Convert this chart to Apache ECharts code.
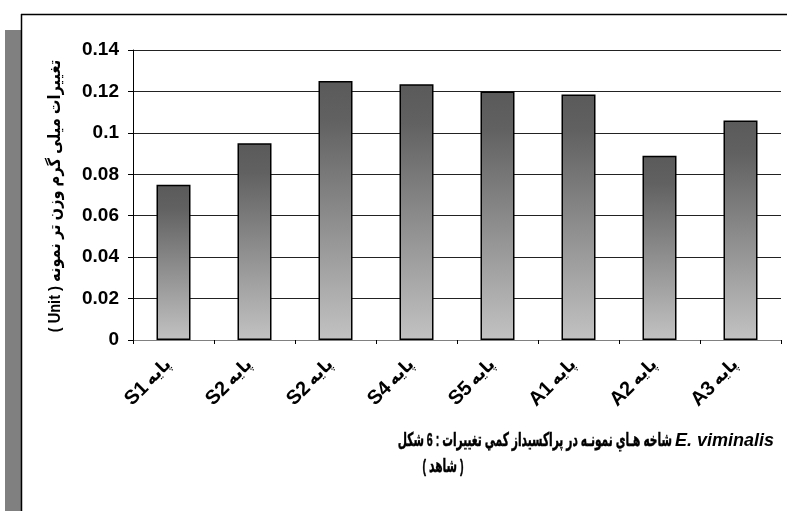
<!DOCTYPE html>
<html>
<head>
<meta charset="utf-8">
<script src="https://cdn.jsdelivr.net/npm/echarts@6/dist/echarts.min.js"></script>
<style>
  html, body { margin: 0; padding: 0; background: #fff; }
  #chart { width: 787px; height: 511px; }
</style>
</head>
<body>
<div id="chart"></div>
<script>
// Samples along the x axis and peroxidase activity (Unit per mg fresh weight)
const sampleCodes = ['S1', 'S2', 'S2', 'S4', 'S5', 'A1', 'A2', 'A3'];
const baseWord = 'پایه';
const activity = [0.075, 0.095, 0.125, 0.1235, 0.12, 0.1185, 0.089, 0.106];
const yTicks = { min: 0, max: 0.14, step: 0.02 };

// Axis title and caption words, listed in the order they are laid out left to right
const yAxisTitle = '( Unit ) تغییرات میلی گرم وزن تر نمونه';
const captionWords = ['شكل', '6', ':', 'تغييرات', 'كمي', 'پراكسيداز', 'در', 'نمونـه', 'هـاي', 'شاخه'];
const captionSpecies = 'E. viminalis';
const captionLine2 = '( شاهد )';

const FONT = "'Liberation Sans', 'DejaVu Sans', Arial, sans-serif";
const LRM = '\u200E';

const chart = echarts.init(document.getElementById('chart'), null, { renderer: 'canvas' });

// Each word is fenced by left-to-right marks so the words keep their listed order
const captionText = captionWords.map(w => LRM + w + LRM).join(' ');

chart.setOption({
  animation: false,
  backgroundColor: '#ffffff',
  graphic: [
    { type: 'rect', shape: { x: 5, y: 30, width: 16, height: 481 }, style: { fill: '#808080' }, silent: true },
    { type: 'line', shape: { x1: 21, y1: 14.5, x2: 787, y2: 14.5 }, style: { stroke: '#000', lineWidth: 1.5 }, silent: true },
    { type: 'line', shape: { x1: 21.5, y1: 14, x2: 21.5, y2: 511 }, style: { stroke: '#000', lineWidth: 1.5 }, silent: true },
    // Vertical y-axis title, slightly narrowed along its length
    {
      type: 'text', x: 55, y: 196, rotation: Math.PI / 2, scaleX: 0.86, silent: true,
      style: {
        text: yAxisTitle, fontFamily: FONT, fontWeight: 'bold', fontSize: 17,
        fill: '#000', align: 'center', verticalAlign: 'middle'
      }
    },
    // Caption, first line: Persian words (narrowed) followed by the italic species name
    {
      type: 'text', x: 672, y: 441, scaleX: 0.56, silent: true,
      style: {
        text: captionText, fontFamily: FONT, fontWeight: 'bold', fontSize: 19,
        fill: '#000', stroke: '#000', lineWidth: 0.5, align: 'right', verticalAlign: 'middle'
      }
    },
    {
      type: 'text', x: 675, y: 441, silent: true,
      style: {
        text: captionSpecies, fontFamily: FONT, fontWeight: 'bold', fontStyle: 'italic', fontSize: 18,
        fill: '#000', align: 'left', verticalAlign: 'middle'
      }
    },
    // Caption, second line
    {
      type: 'text', x: 443, y: 467, scaleX: 0.56, silent: true,
      style: {
        text: captionLine2, fontFamily: FONT, fontWeight: 'bold', fontSize: 19,
        fill: '#000', stroke: '#000', lineWidth: 0.5, align: 'center', verticalAlign: 'middle'
      }
    }
  ],
  grid: { left: 133, right: 6, top: 50, bottom: 171, containLabel: false },
  xAxis: {
    type: 'category',
    data: sampleCodes,
    boundaryGap: true,
    axisLine: { show: true, lineStyle: { color: '#808080', width: 1 } },
    axisTick: { show: true, length: 4, inside: false, alignWithLabel: false, lineStyle: { color: '#000' } },
    axisLabel: {
      rotate: 45,
      margin: 17,
      interval: 0,
      padding: [0, 7, 0, 0],
      formatter: v => '{n|' + v + '} {p|' + baseWord + '}',
      rich: {
        n: { fontFamily: FONT, fontWeight: 'bold', fontSize: 20, color: '#000' },
        p: { fontFamily: FONT, fontWeight: 'bold', fontSize: 17, color: '#000' }
      }
    },
    splitLine: { show: false }
  },
  yAxis: {
    type: 'value',
    min: yTicks.min,
    max: yTicks.max,
    interval: yTicks.step,
    axisLine: { show: true, lineStyle: { color: '#000', width: 1 } },
    axisTick: { show: true, length: 5, inside: false, lineStyle: { color: '#000' } },
    axisLabel: {
      margin: 14,
      fontFamily: FONT,
      fontWeight: 'bold',
      fontSize: 19,
      color: '#000'
    },
    splitLine: { show: true, lineStyle: { color: '#222', width: 1 } }
  },
  series: [
    {
      type: 'bar',
      data: activity,
      barWidth: 34,
      itemStyle: {
        color: new echarts.graphic.LinearGradient(0, 0, 0, 1, [
          { offset: 0, color: '#5a5a5a' },
          { offset: 0.15, color: '#616161' },
          { offset: 1, color: '#c2c2c2' }
        ]),
        borderColor: '#000',
        borderWidth: 1.5
      }
    }
  ]
});
</script>
</body>
</html>
